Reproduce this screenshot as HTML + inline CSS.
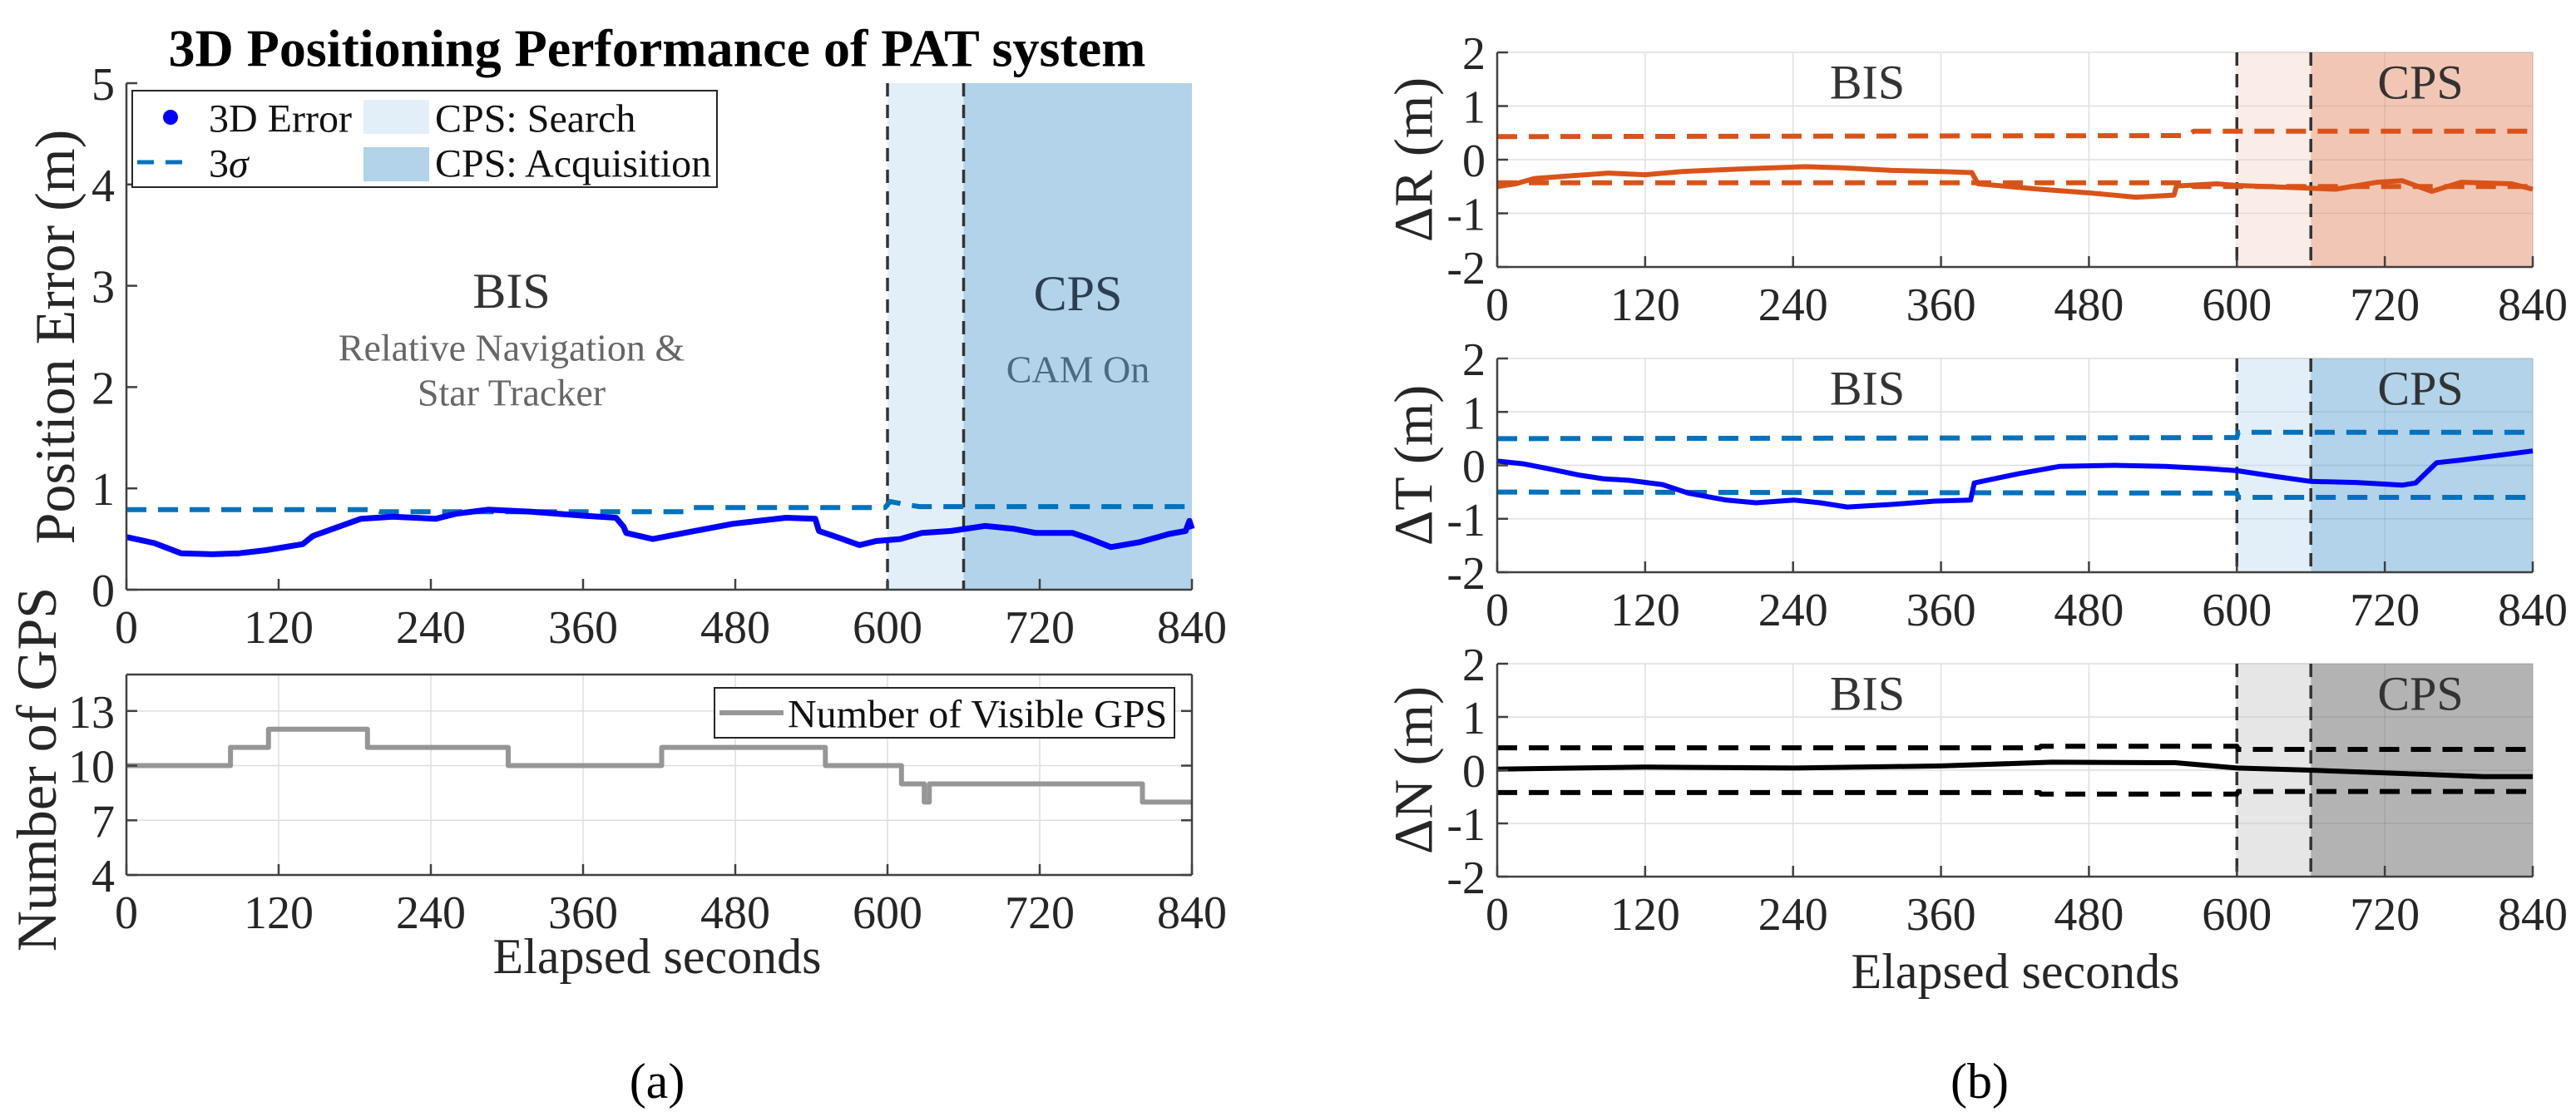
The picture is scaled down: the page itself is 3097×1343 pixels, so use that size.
<!DOCTYPE html>
<html><head><meta charset="utf-8">
<style>
html,body{margin:0;padding:0;background:#fff;}
svg{display:block;font-family:"Liberation Serif",serif;}
</style></head>
<body>
<svg id="fig" width="3097" height="1343" viewBox="0 0 3097 1343" xmlns="http://www.w3.org/2000/svg"></svg>
<script>
// ---------- data ----------
const xTicks = [0,120,240,360,480,600,720,840];
const phaseBounds = [600,660,840];
const errT = [0,22,43,68,89,110,139,147,185,210,244,260,285,319,361,386,392,394,415,444,478,520,543,546,560,578,591,610,627,650,677,700,717,746,760,776,799,822,835,838,840];
const errV = [0.52,0.46,0.36,0.35,0.36,0.39,0.45,0.53,0.70,0.72,0.70,0.75,0.79,0.77,0.73,0.71,0.62,0.56,0.50,0.57,0.65,0.71,0.70,0.58,0.52,0.44,0.48,0.50,0.56,0.58,0.63,0.60,0.56,0.56,0.50,0.42,0.47,0.55,0.58,0.68,0.60];
const sigT = [0,195,200,440,445,598,602,615,625,840];
const sigV = [0.79,0.79,0.77,0.77,0.81,0.81,0.87,0.84,0.82,0.82];
const errTicks = [0,1,2,3,4,5];
const gpsT = [0,82,112,190,301,422,551,611,629,633,801,840];
const gpsV = [10,11,12,11,10,11,10,9,8,9,8,8];
const gpsTicks = [4,7,10,13];
const rT = [0,15,30,60,90,120,150,200,250,280,320,360,385,390,440,481,518,549,551,584,600,646,680,714,734,758,782,823,840];
const rV = [-0.5,-0.45,-0.35,-0.3,-0.25,-0.28,-0.22,-0.17,-0.13,-0.15,-0.2,-0.22,-0.24,-0.45,-0.55,-0.62,-0.7,-0.66,-0.49,-0.45,-0.48,-0.52,-0.55,-0.42,-0.39,-0.59,-0.42,-0.45,-0.55];
const rSigT = [0,560,565,840];
const rSigU = [0.43,0.45,0.53,0.53];
const rSigL = [-0.43,-0.43,-0.5,-0.5];
const tT = [0,21,45,66,86,107,134,155,186,210,241,262,284,321,355,384,387,422,456,501,542,576,600,629,660,697,734,745,762,782,840];
const tV = [0.08,0.03,-0.08,-0.18,-0.25,-0.28,-0.36,-0.52,-0.65,-0.7,-0.65,-0.7,-0.78,-0.73,-0.67,-0.65,-0.33,-0.16,-0.02,0,-0.02,-0.06,-0.1,-0.2,-0.3,-0.32,-0.37,-0.33,0.05,0.1,0.27];
const tSigT = [0,600,601,840];
const tSigU = [0.5,0.52,0.62,0.62];
const tSigL = [-0.5,-0.52,-0.6,-0.6];
const nT = [0,120,240,360,450,540,550,600,660,720,800,840];
const nV = [0.02,0.06,0.04,0.08,0.15,0.14,0.14,0.04,0.0,-0.05,-0.12,-0.12];
const nSigT = [0,440,441,600,601,840];
const nSigU = [0.42,0.42,0.45,0.45,0.39,0.39];
const nSigL = [-0.42,-0.42,-0.45,-0.45,-0.40,-0.40];
const dTicks = [-2,-1,0,1,2];

const NS = "http://www.w3.org/2000/svg";
const svg = document.getElementById('fig');
function el(tag, attrs, parent, text){
  const e = document.createElementNS(NS, tag);
  for (const k in attrs) e.setAttribute(k, attrs[k]);
  if (text !== undefined) e.textContent = text;
  (parent||svg).appendChild(e);
  return e;
}
function txt(x,y,s,size,anchor,fill,weight,name,parent){
  const e = el('text',{x:x,y:y,'font-size':size,'text-anchor':anchor||'middle',fill:fill||'#262626','font-weight':weight||'normal','dominant-baseline':'central'},parent,s);
  
  
  return e;
}
function axes(x0,x1,ymin,ymax,yTop,yBot){
  return {
    sx: t => x0 + (t/840)*(x1-x0),
    sy: v => yBot - (v-ymin)/(ymax-ymin)*(yBot-yTop),
    x0:x0,x1:x1,yTop:yTop,yBot:yBot
  };
}
function line(ax,T,V,color,w,dash,name,step){
  let d='';
  for(let i=0;i<T.length;i++){
    const x=ax.sx(T[i]).toFixed(1), y=ax.sy(V[i]).toFixed(1);
    if(i===0) d+='M'+x+' '+y;
    else if(step){ d+=' L'+x+' '+ax.sy(V[i-1]).toFixed(1)+' L'+x+' '+y; }
    else d+=' L'+x+' '+y;
  }
  const p = el('path',{d:d,fill:'none',stroke:color,'stroke-width':w,'stroke-linejoin':'round','stroke-dasharray':dash||'none'});
  
  
  return p;
}
function shading(ax,c1,c2,name){
  const r1 = el('rect',{x:ax.sx(phaseBounds[0]),y:ax.yTop,width:ax.sx(phaseBounds[1])-ax.sx(phaseBounds[0]),height:ax.yBot-ax.yTop,fill:c1});
  
  
  const r2 = el('rect',{x:ax.sx(phaseBounds[1]),y:ax.yTop,width:ax.sx(phaseBounds[2])-ax.sx(phaseBounds[1]),height:ax.yBot-ax.yTop,fill:c2});
  
  
}
function vlines(ax,name){
  for(let i=0;i<2;i++){
    const x=ax.sx(phaseBounds[i]);
    const l = el('line',{x1:x,x2:x,y1:ax.yTop,y2:ax.yBot,stroke:'#333','stroke-width':3.5,'stroke-dasharray':'16 10'});
    
    
  }
}
function grid(ax,yt,doX){
  yt.forEach(v=>{ el('line',{x1:ax.x0,x2:ax.x1,y1:ax.sy(v),y2:ax.sy(v),stroke:'#dedede','stroke-width':1.5}); });
  if(doX) xTicks.forEach(t=>{ el('line',{x1:ax.sx(t),x2:ax.sx(t),y1:ax.yTop,y2:ax.yBot,stroke:'#dedede','stroke-width':1.5}); });
}
function frame(ax,yt,fs,name,box){
  el('line',{x1:ax.x0,x2:ax.x1,y1:ax.yBot,y2:ax.yBot,stroke:'#404040','stroke-width':2.5});
  el('line',{x1:ax.x0,x2:ax.x0,y1:ax.yTop,y2:ax.yBot,stroke:'#404040','stroke-width':2.5});
  if(box){
    el('line',{x1:ax.x0,x2:ax.x1,y1:ax.yTop,y2:ax.yTop,stroke:'#404040','stroke-width':2.5});
    el('line',{x1:ax.x1,x2:ax.x1,y1:ax.yTop,y2:ax.yBot,stroke:'#404040','stroke-width':2.5});
  }
  xTicks.forEach(t=>{
    el('line',{x1:ax.sx(t),x2:ax.sx(t),y1:ax.yBot,y2:ax.yBot-13,stroke:'#404040','stroke-width':2.5});
    txt(ax.sx(t),ax.yBot+46,String(t),fs,'middle','#262626','normal',name+'-x-tick-label');
  });
  yt.forEach(v=>{
    el('line',{x1:ax.x0,x2:ax.x0+13,y1:ax.sy(v),y2:ax.sy(v),stroke:'#404040','stroke-width':2.5});
    if(box) el('line',{x1:ax.x1,x2:ax.x1-13,y1:ax.sy(v),y2:ax.sy(v),stroke:'#404040','stroke-width':2.5});
    txt(ax.x0-14,ax.sy(v)+2,String(v),fs,'end','#262626','normal',name+'-y-tick-label');
  });
}
function ylabel(x,y,s,fs,name){
  const e = el('text',{x:0,y:0,'font-size':fs,'text-anchor':'middle',fill:'#262626','dominant-baseline':'central',transform:'translate('+x+','+y+') rotate(-90)'},svg,s);
  
  
}

// ---------- panel (a) top ----------
const A = axes(152,1433,0,5,100,709);
shading(A,'#e3eff8','#b2d3ea','error-plot');
vlines(A,'error-plot');
line(A,sigT,sigV,'#0072bd',6,'24 14','three-sigma-line');
line(A,errT,errV,'#0000ff',7,null,'3d-error-line');
frame(A,errTicks,56,'error-plot',false);
txt(790,58,'3D Positioning Performance of PAT system',64,'middle','#000','bold','chart-title');
ylabel(66,405,'Position Error (m)',68,'y-axis-title-position-error');
txt(615,350,'BIS',60,'middle','#333','normal','bis-phase-label');
txt(615,418,'Relative Navigation &',46,'middle','#666','normal','bis-description-line1');
txt(615,472,'Star Tracker',46,'middle','#666','normal','bis-description-line2');
txt(1296,353,'CPS',60,'middle','#2c3e50','normal','cps-phase-label');
txt(1296,444,'CAM On',46,'middle','#4d6a80','normal','cps-description');
// legend
const lg = el('g',{});


el('rect',{x:159,y:109,width:703,height:116,fill:'#fff',stroke:'#262626','stroke-width':2},lg);
el('circle',{cx:205,cy:141,r:9,fill:'#0000ff'},lg);
txt(251,143,'3D Error',48,'start','#111','normal','legend-entry-3d-error',lg);
el('line',{x1:165,x2:228,y1:195,y2:195,stroke:'#0072bd','stroke-width':5,'stroke-dasharray':'20 14'},lg);
const sl = el('text',{x:251,y:197,'font-size':48,fill:'#111','dominant-baseline':'central'},lg,'3');
const ts = el('tspan',{'font-style':'italic'},sl,'σ');


el('rect',{x:437,y:120,width:79,height:41,fill:'#e3eff8'},lg);
txt(523,143,'CPS: Search',48,'start','#111','normal','legend-entry-cps-search',lg);
el('rect',{x:437,y:177,width:79,height:41,fill:'#b2d3ea'},lg);
txt(523,197,'CPS: Acquisition',48,'start','#111','normal','legend-entry-cps-acquisition',lg);

// ---------- panel (a) bottom ----------
const G = axes(152,1433,4,15,811,1052);
grid(G,gpsTicks,true);
line(G,gpsT,gpsV,'#969696',6,null,'visible-gps-line',true);
frame(G,gpsTicks,56,'gps-plot',true);
ylabel(44,925,'Number of GPS',68,'y-axis-title-number-of-gps');
txt(790,1150,'Elapsed seconds',60,'middle','#262626','normal','x-axis-title-a');
txt(790,1300,'(a)',60,'middle','#000','normal','panel-label-a');
const lg2 = el('g',{});


el('rect',{x:859,y:827,width:553,height:60,fill:'#fff',stroke:'#262626','stroke-width':2},lg2);
el('line',{x1:865,x2:942,y1:857,y2:857,stroke:'#969696','stroke-width':6},lg2);
txt(947,859,'Number of Visible GPS',48,'start','#111','normal','legend-entry-visible-gps',lg2);

// ---------- panel (b) ----------
function dPanel(top,bot,c1,c2,T,V,col,sU,sL,sT,sigCol,lab,name){
  const ax = axes(1800,3045,-2,2,top,bot);
  grid(ax,dTicks,true);
  shading(ax,c1,c2,name);
  xTicks.filter(t=>t>600).forEach(t=>{ el('line',{x1:ax.sx(t),x2:ax.sx(t),y1:ax.yTop,y2:ax.yBot,stroke:'rgba(0,0,0,0.08)','stroke-width':1.5}); });
  dTicks.forEach(v=>{ el('line',{x1:ax.sx(600),x2:ax.x1,y1:ax.sy(v),y2:ax.sy(v),stroke:'rgba(0,0,0,0.08)','stroke-width':1.5}); });
  vlines(ax,name);
  line(ax,sT,sU,sigCol,6,'24 14',name+'-upper-3sigma');
  line(ax,sT,sL,sigCol,6,'24 14',name+'-lower-3sigma');
  line(ax,T,V,col,6,null,name+'-error-line');
  frame(ax,dTicks,56,name,false);
  txt(2245,(top+bot)/2-(bot-top)*0.36,'BIS',58,'middle','#333','normal',name+'-bis-label');
  txt(2910,(top+bot)/2-(bot-top)*0.36,'CPS',58,'middle','#333','normal',name+'-cps-label');
  ylabel(1700,(top+bot)/2,lab,66,name+'-y-axis-title');
}
dPanel(63,321,'#faece6','#f2c6b5',rT,rV,'#d95319',rSigU,rSigL,rSigT,'#d95319','ΔR (m)','delta-r-plot');
dPanel(431,688,'#e3eff8','#b2d3ea',tT,tV,'#0000ff',tSigU,tSigL,tSigT,'#0072bd','ΔT (m)','delta-t-plot');
dPanel(798,1054,'#e6e6e6','#b3b3b3',nT,nV,'#000',nSigU,nSigL,nSigT,'#000','ΔN (m)','delta-n-plot');
txt(2423,1168,'Elapsed seconds',60,'middle','#262626','normal','x-axis-title-b');
txt(2380,1300,'(b)',60,'middle','#000','normal','panel-label-b');
</script>
</body></html>
